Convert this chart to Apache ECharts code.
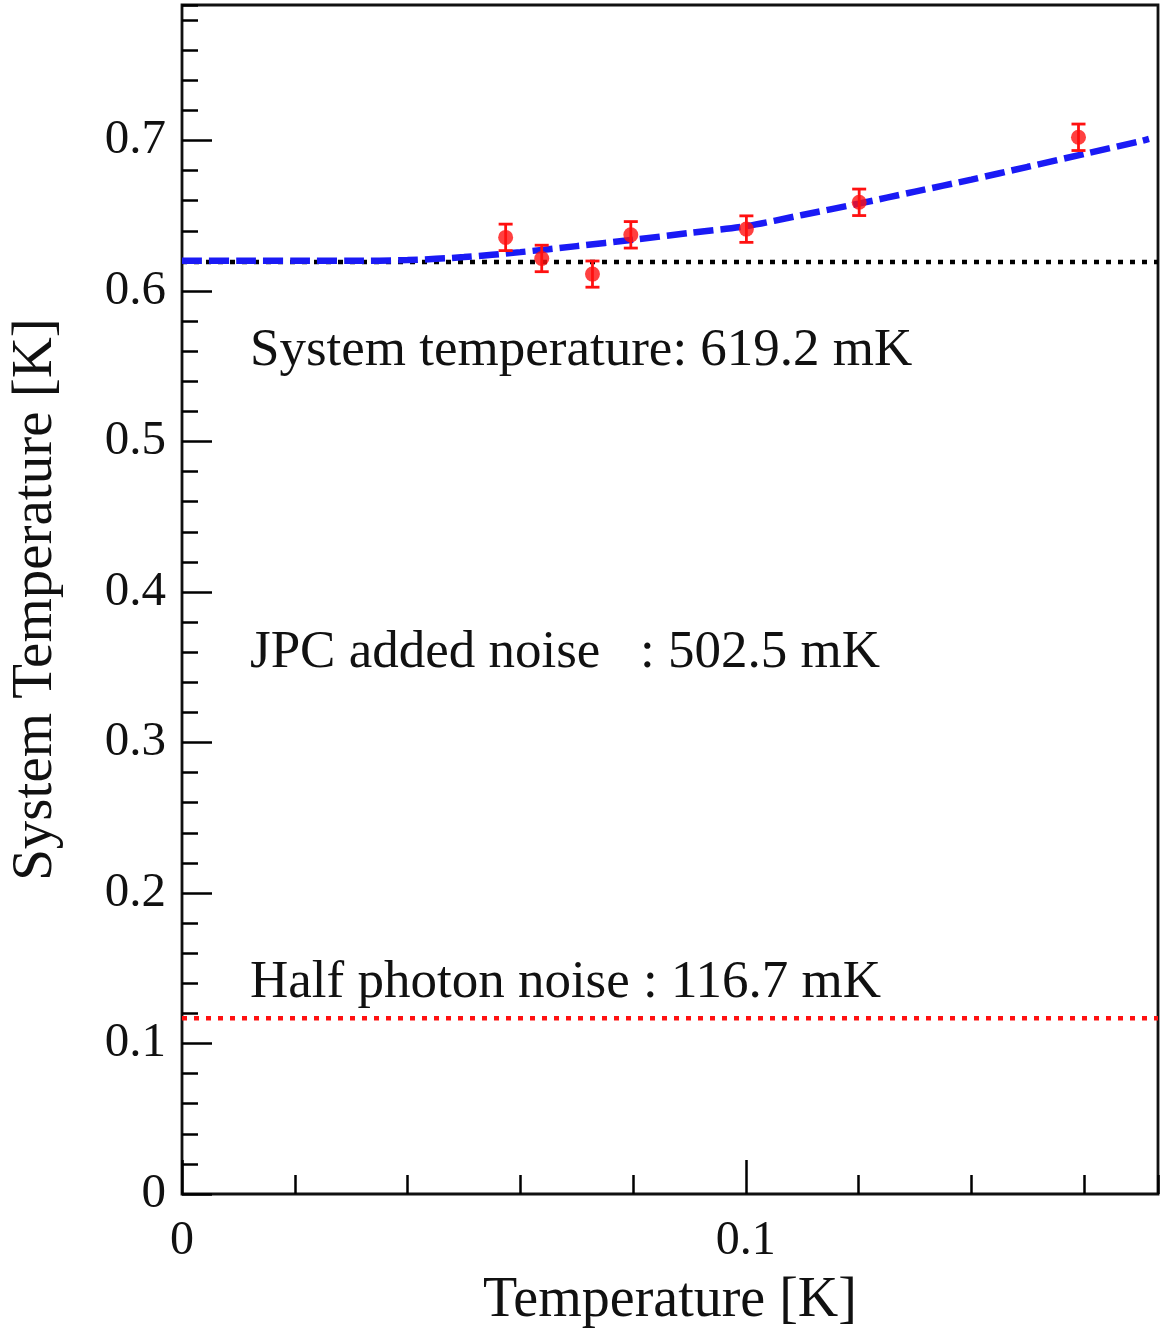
<!DOCTYPE html>
<html>
<head>
<meta charset="utf-8">
<script src="https://cdn.jsdelivr.net/npm/echarts@6/dist/echarts.min.js"></script>
<style>
html,body{margin:0;padding:0;background:#fff;}
#chart{width:1162px;height:1331px;}
</style>
</head>
<body>
<div id="chart"></div>
<script>
// ---- data ----
var xMin = 0, xMax = 0.1731;
var yMin = 0, yMax = 0.79;

var pointX   = [0.0574, 0.0638, 0.0728, 0.0796, 0.1001, 0.1201, 0.1590];
var pointY   = [0.6356, 0.6216, 0.6112, 0.6373, 0.6411, 0.6589, 0.7021];
var pointErr = [0.0088, 0.0088, 0.0087, 0.0088, 0.0088, 0.0088, 0.0088];

var curveX = [0, 0.01, 0.02, 0.03, 0.04, 0.05, 0.06, 0.07, 0.08, 0.09, 0.10, 0.11, 0.12, 0.13, 0.14, 0.15, 0.16, 0.17, 0.1715];
var curveY = [0.620, 0.620, 0.620, 0.620, 0.6205, 0.6225, 0.6258, 0.6298, 0.634, 0.6385, 0.643, 0.6505, 0.658, 0.666, 0.674, 0.6825, 0.691, 0.6995, 0.701];

var systemTemp = 0.6192;   // K
var halfPhoton = 0.1167;   // K

var annotations = [
  'System temperature: 619.2 mK',
  'JPC added noise   : 502.5 mK',
  'Half photon noise : 116.7 mK'
];

var xAxisTitle = 'Temperature [K]';
var yAxisTitle = 'System Temperature [K]';

// ---- build chart ----
var FONT = 'Liberation Serif';
var chart = echarts.init(document.getElementById('chart'), null, {renderer: 'canvas'});

var pts = pointX.map(function (x, i) { return [x, pointY[i], pointErr[i]]; });
var curve = curveX.map(function (x, i) { return [x, curveY[i]]; });

var red = '#ff1010';
var blue = '#1a1af5';

function baseAxis(extra) {
  var a = {
    axisLine: {show: false},
    splitLine: {show: false},
    axisLabel: {show: false},
    axisTick: {show: true, inside: true, lineStyle: {color: '#000', width: 2.5}}
  };
  for (var k in extra) a[k] = extra[k];
  return a;
}

var option = {
  backgroundColor: '#fff',
  animation: false,
  grid: {
    left: 182, right: 4, top: 5, bottom: 137,
    containLabel: false,
    outerBoundsMode: 'none',
    show: true, borderColor: '#111', borderWidth: 2.8, backgroundColor: 'transparent'
  },
  xAxis: [
    baseAxis({
      type: 'value', position: 'bottom', min: xMin, max: xMax, interval: 0.02,
      axisTick: {show: true, inside: true, length: 19, lineStyle: {color: '#000', width: 2.5}}
    }),
    baseAxis({
      type: 'value', position: 'bottom', min: xMin, max: xMax, interval: 0.1,
      axisTick: {show: true, inside: true, length: 34, lineStyle: {color: '#000', width: 2.5}},
      axisLabel: {show: true, showMaxLabel: false, fontFamily: FONT, fontSize: 48, color: '#111', margin: 23},
      name: xAxisTitle, nameLocation: 'middle', nameGap: 79,
      nameTextStyle: {fontFamily: FONT, fontSize: 56, color: '#111'}
    })
  ],
  yAxis: [
    baseAxis({
      type: 'value', position: 'left', min: yMin, max: yMax, interval: 0.02,
      axisTick: {show: true, inside: true, length: 16, lineStyle: {color: '#000', width: 2.5}}
    }),
    baseAxis({
      type: 'value', position: 'left', min: yMin, max: yMax, interval: 0.1,
      axisTick: {show: true, inside: true, length: 30, lineStyle: {color: '#000', width: 2.5}},
      axisLabel: {show: true, showMaxLabel: false, fontFamily: FONT, fontSize: 49, color: '#111', margin: 16},
      name: yAxisTitle, nameLocation: 'middle', nameGap: 117, nameRotate: 90,
      nameTextStyle: {fontFamily: FONT, fontSize: 57, color: '#111'}
    })
  ],
  series: [
    {
      type: 'line', xAxisIndex: 0, yAxisIndex: 0, symbol: 'none', silent: true,
      data: [[xMin, halfPhoton], [xMax, halfPhoton]],
      lineStyle: {color: red, width: 4.5, type: [5, 7]}
    },
    {
      type: 'line', xAxisIndex: 0, yAxisIndex: 0, symbol: 'none', silent: true,
      data: [[xMin, systemTemp], [xMax, systemTemp]],
      lineStyle: {color: '#000', width: 4.5, type: [5, 7]}
    },
    {
      type: 'line', xAxisIndex: 0, yAxisIndex: 0, symbol: 'none', silent: true, smooth: 0.3,
      data: curve,
      lineStyle: {color: blue, width: 6.5, type: [20, 7]},
      z: 3
    },
    {
      type: 'custom', xAxisIndex: 0, yAxisIndex: 0, silent: true, z: 4,
      data: pts,
      renderItem: function (params, api) {
        var x = api.value(0), y = api.value(1), e = api.value(2);
        var top = api.coord([x, y + e]);
        var bot = api.coord([x, y - e]);
        var hw = 7;
        var st = {stroke: red, lineWidth: 2.8};
        return {
          type: 'group',
          children: [
            {type: 'line', shape: {x1: top[0], y1: top[1], x2: bot[0], y2: bot[1]}, style: st},
            {type: 'line', shape: {x1: top[0] - hw, y1: top[1], x2: top[0] + hw, y2: top[1]}, style: st},
            {type: 'line', shape: {x1: bot[0] - hw, y1: bot[1], x2: bot[0] + hw, y2: bot[1]}, style: st}
          ]
        };
      }
    },
    {
      type: 'scatter', xAxisIndex: 0, yAxisIndex: 0, silent: true, z: 5,
      data: pts.map(function (p) { return [p[0], p[1]]; }),
      symbol: 'circle', symbolSize: 15,
      itemStyle: {color: red}
    }
  ],
  graphic: [
    {type: 'text', left: 250, top: 325, style: {text: annotations[0], font: '53px "Liberation Serif"', fill: '#111'}},
    {type: 'text', left: 250, top: 627, style: {text: annotations[1], font: '53px "Liberation Serif"', fill: '#111'}},
    {type: 'text', left: 250, top: 957, style: {text: annotations[2], font: '53px "Liberation Serif"', fill: '#111'}}
  ]
};
chart.setOption(option);
</script>
</body>
</html>
